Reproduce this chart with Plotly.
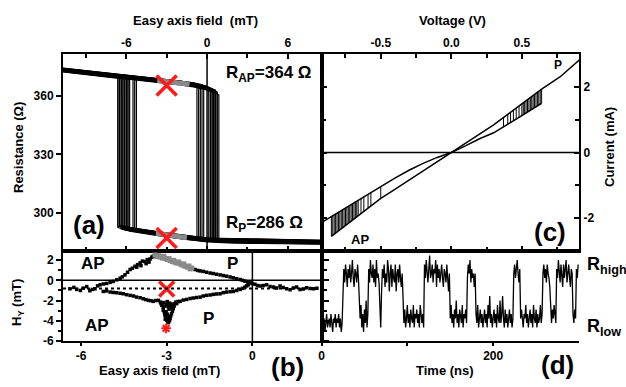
import numpy as np
import plotly.graph_objects as go

FONT = "Liberation Sans, Arial, Helvetica, sans-serif"

# ---------------- panel (a): resistance vs easy-axis field ----------------
AP_H = [-10.75, -9, -8, -7, -6.75, -6.625, -6.5, -6.375, -6.25, -6.125, -6, -5.875, -5.75,
        -5.625, -5.5, -5.375, -5.25, -5, -4, -3, -2, -1, -0.75, -0.625, -0.5, -0.375, -0.25,
        -0.125, 0, 0.125, 0.25, 0.375, 0.5, 0.625, 0.75, 0.875, 1.0]
AP_R = [373.5, 372.2, 371.3, 370.5, 370.3, 370.2, 370.1, 370.0, 369.9, 369.8, 369.7, 369.6,
        369.5, 369.4, 369.3, 369.2, 369.1, 368.9, 368.3, 367.6, 366.8, 365.8, 365.5, 365.3,
        365.1, 364.9, 364.6, 364.4, 364.1, 363.8, 363.4, 363.0, 362.6, 362.2, 361.8, 361.4, 361.0]
P_H = [-6.75, -6.625, -6.5, -6.375, -6.25, -6.125, -6, -5.875, -5.75, -5.625, -5.5, -5.375,
       -5.25, -5, -4, -3, -2, -1, -0.75, -0.625, -0.5, -0.375, -0.25, -0.125, 0, 0.125, 0.25,
       0.375, 0.5, 0.625, 0.75, 0.875, 1.0, 2, 4, 6, 8.75]
P_R = [293.4, 293.1, 292.9, 292.6, 292.4, 292.1, 291.9, 291.7, 291.5, 291.3, 291.1, 290.9,
       290.8, 290.5, 289.6, 288.6, 287.5, 286.7, 286.5, 286.4, 286.3, 286.25, 286.2, 286.1,
       286.0, 285.95, 285.9, 285.85, 285.8, 285.75, 285.7, 285.65, 285.6, 285.4, 285.2, 285.0, 284.8]
SWITCH_UP_H = [-0.75, -0.625, -0.5, -0.375, -0.25, 0.125, 0.25, 0.375, 0.375, 0.5, 0.5, 0.625,
               0.625, 0.75, 0.75, 0.875, 0.25, 0.5]
SWITCH_DOWN_H = [-6.625, -6.5, -6.375, -6.25, -6.125, -6.0, -5.875, -6.5, -6.375, -6.25, -5.75,
                 -6.125, -5.5, -6.0, -5.375, -6.625, -5.25, -5.875]
LOOP_SHIFT = [0.0, 0.6, -0.5, 1.0, -0.8, 0.3, -0.3, 0.8, -1.0, 0.5, -0.6, 0.2, 0.9, -0.2, 0.4,
              -0.7, 0.1, -0.4]
GRAY_AP_H = [-3.7, -3, -2, -1.3]
GRAY_AP_R = [368.1, 367.6, 366.8, 366.1]
GRAY_P_H = [-3.8, -3, -2, -1.5]
GRAY_P_R = [289.4, 288.6, 287.5, 287.1]
MARK_A_H = [-3, -3]
MARK_A_R = [365.5, 287.0]
A_XTICKS = [-6, 0, 6]
A_XTICKS_MINOR = [-9, -3, 3]
A_YTICKS = [300, 330, 360]

# ---------------- panel (b): H_Y vs easy-axis field ----------------
B_UP_H = [-6.39, -6.25, -6.15, -6.02, -5.92, -5.80, -5.69, -5.60, -5.51, -5.42, -5.33, -5.22,
          -5.10, -4.98, -4.87, -4.75, -4.63, -4.55, -4.46, -4.37, -4.28, -4.20, -4.11, -4.02,
          -3.93, -3.85, -3.76, -3.68, -3.58, -3.52, -3.47, -4.05, -3.90, -3.72, -3.62,
          -2.01, -1.92, -1.83, -1.72, -1.60, -1.48, -1.37, -1.25, -1.13, -1.02, -0.90, -0.78,
          -0.67, -0.55, -0.43, -0.35, -0.26, -0.17, -0.08, 0.00, 0.09, 0.18, 0.27, 0.38, 0.50,
          0.62, 0.74, 0.85, 0.97, 1.08, 1.20, 1.32, 1.44, 1.55, 1.67, 1.78, 1.90, 2.02, 2.14, 2.26]
B_UP_Y = [-0.84, -0.70, -0.90, -1.00, -0.77, -0.62, -1.03, -0.90, -0.84, -0.55, -0.44, -0.36,
          -0.31, -0.20, -0.11, 0.05, 0.21, 0.35, 0.54, 0.80, 1.07, 1.20, 1.39, 1.55,
          1.72, 1.90, 1.85, 2.05, 2.11, 2.30, 2.38, 1.30, 1.45, 1.65, 1.80,
          1.07, 0.98, 0.93, 0.88, 0.80, 0.72, 0.67, 0.60, 0.54, 0.47, 0.41, 0.33,
          0.25, 0.16, 0.08, 0.00, -0.08, -0.15, -0.25, -0.32, -0.38, -0.50, -0.57, -0.50, -0.44,
          -0.60, -0.67, -0.75, -0.57, -0.70, -0.84, -0.92, -0.77, -0.66, -0.90, -0.85, -0.74, -0.80, -0.84, -0.78]
B_GRAY_H = [-3.41, -3.35, -3.28, -3.23, -3.15, -3.10, -3.06, -2.98, -2.92, -2.88, -2.80, -2.75,
            -2.71, -2.64, -2.58, -2.53, -2.46, -2.40, -2.36, -2.28, -2.22, -2.18, -2.12]
B_GRAY_Y = [2.51, 2.35, 2.45, 2.30, 2.20, 2.38, 2.18, 2.05, 2.15, 1.95, 1.85, 1.98,
            1.79, 1.70, 1.82, 1.62, 1.50, 1.62, 1.39, 1.30, 1.42, 1.13, 1.22]
B_LOW_H = [-5.22, -5.10, -4.98, -4.87, -4.75, -4.63, -4.52, -4.40, -4.28, -4.16, -4.05, -3.93,
           -3.82, -3.73, -3.64, -3.55, -3.47, -3.38, -3.29, -3.22,
           -3.20, -3.17, -3.12, -3.12, -3.08, -3.06, -3.03, -3.00, -2.96, -2.94, -2.90, -2.88,
           -2.86, -2.83, -2.80, -2.77, -2.74, -2.71, -2.68, -3.00, -2.95, -2.92, -3.02, -2.98,
           -2.92, -3.05, -2.90, -2.85, -2.80, -3.10, -2.65, -2.60, -2.98, -2.82, -3.07, -2.97,
           -2.53, -2.42, -2.30, -2.18, -2.07, -1.95, -1.83, -1.72, -1.60, -1.48, -1.37, -1.25,
           -1.13, -1.02, -0.90, -0.78, -0.67, -0.55, -0.43, -0.35, -0.26, -0.20, -0.14]
B_LOW_Y = [-1.10, -1.05, -1.16, -1.20, -1.23, -1.28, -1.33, -1.42, -1.49, -1.55, -1.66, -1.72,
           -1.82, -1.90, -1.98, -2.02, -2.08, -2.00, -1.98, -2.15,
           -2.30, -2.48, -2.70, -2.97, -3.20, -3.46, -3.70, -3.95, -4.10, -4.18, -4.00, -3.79,
           -3.55, -3.30, -3.05, -2.80, -2.55, -2.31, -2.15, -2.40, -2.60, -2.85, -3.10, -3.35,
           -3.60, -3.85, -2.25, -2.45, -2.35, -2.20, -2.30, -2.10, -2.10, -2.70, -2.55, -3.85,
           -2.08, -1.95, -1.89, -1.80, -1.75, -1.70, -1.66, -1.55, -1.49, -1.45, -1.39, -1.35,
           -1.33, -1.22, -1.16, -1.12, -1.10, -1.00, -0.90, -0.80, -0.67, -0.55, -0.44]
B_DOTTED_Y = -0.8
MARK_B_H = [-3.0]
MARK_B_Y = [-0.85]
STAR_B_H = [-3.02]
STAR_B_Y = [-4.75]
B_XTICKS = [-6, -3, 0]
B_YTICKS = [-6, -4, -2, 0, 2]
B_YTICKS_MINOR = [-5, -3, -1, 1]

# ---------------- panel (c): current vs voltage ----------------
IV_AP_V = [-0.93, -0.85, -0.7, -0.5, -0.4, -0.3, -0.2, -0.1, 0, 0.1, 0.2, 0.3, 0.4, 0.5, 0.64]
IV_AP_I = [-2.16, -1.95, -1.56, -1.04, -0.78, -0.54, -0.33, -0.15, 0, 0.2, 0.42, 0.6, 0.855, 1.124, 1.5]
IV_P_V = [-0.85, -0.7, -0.5, -0.4, -0.3, -0.2, -0.1, 0, 0.1, 0.2, 0.3, 0.4, 0.5, 0.64, 0.77, 0.91]
IV_P_I = [-2.552, -2.058, -1.40, -1.12, -0.84, -0.56, -0.28, 0, 0.28, 0.56, 0.84, 1.16, 1.48, 1.928, 2.3, 2.83]
SW_R_V = [0.37, 0.40, 0.42, 0.44, 0.46, 0.48, 0.50, 0.51, 0.52, 0.53, 0.54, 0.55, 0.56, 0.57,
          0.58, 0.59, 0.60, 0.61, 0.62, 0.63, 0.64]
SW_R_ILO = [0.774, 0.855, 0.908, 0.962, 1.016, 1.070, 1.124, 1.150, 1.177, 1.204, 1.231, 1.258,
            1.285, 1.312, 1.339, 1.366, 1.393, 1.419, 1.446, 1.473, 1.500]
SW_R_IHI = [1.064, 1.160, 1.224, 1.288, 1.352, 1.416, 1.480, 1.512, 1.544, 1.576, 1.608, 1.640,
            1.672, 1.704, 1.736, 1.768, 1.800, 1.832, 1.864, 1.896, 1.928]
SW_L_V = [-0.50, -0.57, -0.59, -0.62, -0.64, -0.66, -0.67, -0.68, -0.69, -0.70, -0.71, -0.72,
          -0.73, -0.74, -0.75, -0.76, -0.77, -0.78, -0.79, -0.80, -0.81, -0.82, -0.83, -0.84, -0.85]
SW_L_ITOP = [-1.040, -1.222, -1.274, -1.352, -1.404, -1.456, -1.482, -1.508, -1.534, -1.560,
             -1.586, -1.612, -1.638, -1.664, -1.690, -1.716, -1.742, -1.768, -1.794, -1.820,
             -1.846, -1.872, -1.898, -1.924, -1.950]
SW_L_IBOT = [-1.400, -1.630, -1.696, -1.795, -1.861, -1.926, -1.959, -1.992, -2.025, -2.058,
             -2.091, -2.124, -2.157, -2.190, -2.223, -2.255, -2.288, -2.321, -2.354, -2.387,
             -2.420, -2.453, -2.486, -2.519, -2.552]
C_XTICKS = [-0.5, 0.0, 0.5]
C_XTICKTEXT = ["-0.5", "0.0", "0.5"]
C_XTICKS_MINOR = [-0.75, -0.25, 0.25, 0.75]
C_YTICKS = [-2, 0, 2]
C_YTICKS_MINOR = [-1, 1]

# ---------------- panel (d): telegraph noise vs time ----------------
T_NS = list(range(300))
SIGNAL = [4, 6, 3, 5, 2, 5, 6, 3, 4, 5,
          3, 6, 4, 2, 5, 4, 6, 3, 5, 4,
          6, 3, 5, 2, 4, 14, 16, 13, 17, 15,
          12, 16, 14, 17, 13, 15, 18, 14, 12, 16,
          15, 13, 17, 14, 9, 5, 8, 3, 6, 2,
          7, 4, 9, 3, 6, 16, 13, 18, 15, 14,
          17, 13, 16, 12, 18, 14, 15, 13, 8, 3,
          11, 16, 14, 17, 12, 15, 13, 18, 16, 11,
          15, 17, 12, 16, 14, 13, 17, 11, 15, 16,
          13, 17, 14, 12, 15, 6, 4, 7, 3, 5,
          8, 4, 6, 3, 7, 5, 4, 8, 3, 6,
          5, 7, 4, 6, 3, 8, 5, 4, 6, 3,
          17, 14, 18, 15, 13, 16, 19, 14, 15, 17,
          13, 16, 15, 18, 12, 17, 14, 16, 13, 15,
          17, 14, 12, 16, 15, 13, 17, 14, 11, 15,
          5, 8, 4, 6, 3, 7, 5, 9, 4, 6,
          3, 7, 5, 4, 8, 3, 6, 5, 7, 4,
          14, 17, 15, 18, 13, 16, 14, 15, 12, 15,
          6, 4, 8, 3, 5, 7, 4, 6, 3, 5,
          7, 4, 6, 3, 8, 5, 10, 4, 6, 3,
          5, 7, 4, 6, 3, 8, 5, 4, 9, 4,
          6, 10, 5, 3, 7, 4, 6, 3, 5, 7,
          4, 6, 3, 5, 15, 17, 14, 16, 18, 15,
          13, 16, 5, 7, 4, 3, 6, 5, 8, 4,
          6, 3, 5, 7, 4, 6, 3, 8, 5, 4,
          7, 3, 6, 4, 5, 8, 4, 6, 15, 17,
          14, 16, 13, 17, 15, 14, 12, 6, 4, 7,
          5, 8, 6, 4, 16, 14, 18, 15, 13, 17,
          15, 12, 17, 14, 16, 18, 13, 15, 17, 14,
          12, 16, 15, 6, 4, 7, 5, 16, 14, 17]
D_XTICKS = [0, 200]
D_XTICKS_MINOR = [100]

# ---------------- figure ----------------
W, H = 626, 387


def px(x):
    return x / W


def py(y):
    return 1 - y / H


fig = go.Figure()

ap_h, ap_r = np.array(AP_H), np.array(AP_R)
p_h, p_r = np.array(P_H), np.array(P_R)
for hu, hd, dr in zip(SWITCH_UP_H, SWITCH_DOWN_H, LOOP_SHIFT):
    m1 = ap_h <= hu + 1e-9
    m2 = p_h >= hu - 1e-9
    m3 = p_h >= hd - 1e-9
    m4 = ap_h <= hd + 1e-9
    xs = np.concatenate([ap_h[m1], p_h[m2], p_h[m3][::-1], ap_h[m4][::-1]])
    ys = np.concatenate([ap_r[m1], p_r[m2], p_r[m3][::-1], ap_r[m4][::-1]]) + dr
    fig.add_trace(go.Scatter(x=xs, y=ys, mode="lines", line=dict(color="black", width=1.2),
                             xaxis="x", yaxis="y", showlegend=False, hoverinfo="skip"))

for gx, gy in ((GRAY_AP_H, GRAY_AP_R), (GRAY_P_H, GRAY_P_R)):
    fig.add_trace(go.Scatter(x=gx, y=gy, mode="lines", line=dict(color="#8a8a8a", width=5),
                             xaxis="x", yaxis="y", showlegend=False, hoverinfo="skip"))

fig.add_trace(go.Scatter(x=MARK_A_H, y=MARK_A_R, mode="markers",
                         marker=dict(symbol="x-thin", size=20, line=dict(width=3.5, color="#ff1a1a")),
                         xaxis="x", yaxis="y", showlegend=False, hoverinfo="skip"))

# panel b
fig.add_trace(go.Scatter(x=B_UP_H, y=B_UP_Y, mode="markers",
                         marker=dict(symbol="square", size=3.5, color="black"),
                         xaxis="x2", yaxis="y2", showlegend=False, hoverinfo="skip"))
fig.add_trace(go.Scatter(x=B_LOW_H, y=B_LOW_Y, mode="markers",
                         marker=dict(symbol="square", size=3.5, color="black"),
                         xaxis="x2", yaxis="y2", showlegend=False, hoverinfo="skip"))
fig.add_trace(go.Scatter(x=B_GRAY_H, y=B_GRAY_Y, mode="markers",
                         marker=dict(symbol="square", size=5, color="#8a8a8a"),
                         xaxis="x2", yaxis="y2", showlegend=False, hoverinfo="skip"))
fig.add_trace(go.Scatter(x=MARK_B_H, y=MARK_B_Y, mode="markers",
                         marker=dict(symbol="x-thin", size=15, line=dict(width=3.5, color="#ff1a1a")),
                         xaxis="x2", yaxis="y2", showlegend=False, hoverinfo="skip"))
fig.add_trace(go.Scatter(x=STAR_B_H, y=STAR_B_Y, mode="markers",
                         marker=dict(symbol="asterisk", size=8, line=dict(width=2, color="#ff1a1a")),
                         xaxis="x2", yaxis="y2", showlegend=False, hoverinfo="skip"))

# panel c
fig.add_trace(go.Scatter(x=IV_AP_V, y=IV_AP_I, mode="lines", line=dict(color="black", width=1.5),
                         xaxis="x3", yaxis="y3", showlegend=False, hoverinfo="skip"))
fig.add_trace(go.Scatter(x=IV_P_V, y=IV_P_I, mode="lines", line=dict(color="black", width=1.5),
                         xaxis="x3", yaxis="y3", showlegend=False, hoverinfo="skip"))
sx, sy = [], []
for v, a, b in list(zip(SW_R_V, SW_R_ILO, SW_R_IHI)) + list(zip(SW_L_V, SW_L_ITOP, SW_L_IBOT)):
    sx += [v, v, None]
    sy += [a, b, None]
fig.add_trace(go.Scatter(x=sx, y=sy, mode="lines", line=dict(color="black", width=1),
                         xaxis="x3", yaxis="y3", showlegend=False, hoverinfo="skip"))

# panel d
fig.add_trace(go.Scatter(x=T_NS, y=SIGNAL, mode="lines", line=dict(color="black", width=1.3),
                         xaxis="x4", yaxis="y4", showlegend=False, hoverinfo="skip"))

tickfont = dict(family=FONT, size=12, color="black", weight="bold")
common = dict(showline=True, linewidth=2, linecolor="black", showgrid=False, zeroline=False,
              automargin=False, ticklen=5, tickwidth=1.5, tickcolor="black", tickfont=tickfont)


def minor(vals, ticks, ticklen=4):
    return dict(tickvals=vals, ticks=ticks, ticklen=ticklen, tickwidth=1.5, tickcolor="black",
                showgrid=False)


XA = [px(63), px(321.5)]
XC = [px(321.5), px(579)]
YA = [py(251), py(54)]
YB = [py(341), py(251)]

fig.update_layout(
    width=W, height=H, margin=dict(l=0, r=0, t=0, b=0),
    paper_bgcolor="white", plot_bgcolor="white", showlegend=False,
    font=dict(family=FONT, size=13, color="black", weight="bold"),
    xaxis=dict(common, domain=XA, range=[-10.7, 8.5], side="top", anchor="y",
               tickvals=A_XTICKS, ticktext=[str(v) for v in A_XTICKS], ticks="inside",
               mirror="allticks", minor=minor(A_XTICKS_MINOR, "inside")),
    yaxis=dict(common, domain=YA, range=[280.3, 381.7], anchor="x",
               tickvals=A_YTICKS, ticktext=[str(v) for v in A_YTICKS], ticks="outside", mirror=True),
    xaxis2=dict(common, domain=XA, range=[-6.63, 2.42], anchor="y2", ticklen=3,
                tickvals=B_XTICKS, ticktext=[str(v) for v in B_XTICKS], ticks="outside", mirror=True),
    yaxis2=dict(common, domain=YB, range=[-6, 2.9], anchor="x2",
                tickvals=B_YTICKS, ticktext=[str(v) for v in B_YTICKS], ticks="outside",
                mirror="allticks", minor=minor(B_YTICKS_MINOR, "outside", 3)),
    xaxis3=dict(common, domain=XC, range=[-0.92, 0.905], side="top", anchor="y3",
                tickvals=C_XTICKS, ticktext=C_XTICKTEXT, ticks="inside", mirror="allticks",
                minor=minor(C_XTICKS_MINOR, "inside")),
    yaxis3=dict(common, domain=YA, range=[-3, 3], side="right", anchor="x3",
                tickvals=C_YTICKS, ticktext=[str(v) for v in C_YTICKS], ticks="inside",
                mirror="allticks", minor=minor(C_YTICKS_MINOR, "inside")),
    xaxis4=dict(common, domain=XC, range=[0, 300], anchor="y4", ticklen=3,
                tickvals=D_XTICKS, ticktext=[str(v) for v in D_XTICKS], ticks="outside", mirror=True,
                minor=minor(D_XTICKS_MINOR, "outside", 3)),
    yaxis4=dict(common, domain=YB, range=[0, 20], anchor="x4", showticklabels=False, ticks=""),
)

shapes = [
    dict(type="line", xref="x", yref="y domain", x0=0, x1=0, y0=0, y1=1,
         line=dict(color="black", width=1.5)),
    dict(type="line", xref="x2", yref="y2 domain", x0=0, x1=0, y0=0, y1=1,
         line=dict(color="black", width=1.5)),
    dict(type="line", xref="x2 domain", yref="y2", x0=0, x1=1, y0=0, y1=0,
         line=dict(color="black", width=1.5)),
    dict(type="line", xref="x2 domain", yref="y2", x0=0, x1=1, y0=B_DOTTED_Y, y1=B_DOTTED_Y,
         line=dict(color="black", width=2, dash="dot")),
    dict(type="line", xref="x3 domain", yref="y3", x0=0, x1=1, y0=0, y1=0,
         line=dict(color="black", width=1.5)),
]
fig.update_layout(shapes=shapes)


def ann(text, x, y, size, xref="paper", yref="paper", angle=0, xanchor="center"):
    return dict(text=text, x=x, y=y, xref=xref, yref=yref, showarrow=False, textangle=angle,
                xanchor=xanchor, yanchor="middle",
                font=dict(family=FONT, size=size, color="black", weight="bold"))


annotations = [
    ann("Easy axis field  (mT)", px(195), py(20), 13),
    ann("Voltage (V)", px(452.5), py(20), 13),
    ann("Resistance (Ω)", px(18), py(148), 13, angle=-90),
    ann("H<sub>Y</sub> (mT)", px(17), py(303), 13, angle=-90),
    ann("Current (mA)", px(609), py(147), 13, angle=-90),
    ann("Easy axis field (mT)", px(159), py(370), 13),
    ann("Time (ns)", px(445.5), py(370), 13),
    ann("R<sub>AP</sub>=364 Ω", 4.6, 371.4, 17, xref="x", yref="y"),
    ann("R<sub>P</sub>=286 Ω", 4.3, 294.0, 17, xref="x", yref="y"),
    ann("(a)", -8.8, 293.5, 26, xref="x", yref="y"),
    ann("AP", -5.58, 1.71, 17, xref="x2", yref="y2"),
    ann("P", -0.71, 1.71, 17, xref="x2", yref="y2"),
    ann("AP", -5.44, -4.42, 17, xref="x2", yref="y2"),
    ann("P", -1.55, -3.73, 17, xref="x2", yref="y2"),
    ann("(b)", px(287.5), py(367), 26),
    ann("P", 0.755, 2.68, 12, xref="x3", yref="y3"),
    ann("AP", -0.65, -2.64, 13, xref="x3", yref="y3"),
    ann("(c)", 0.70, -2.42, 26, xref="x3", yref="y3"),
    ann("(d)", px(557.5), py(365), 26),
    ann("R<sub>high</sub>", px(585), py(265), 18, xanchor="left"),
    ann("R<sub>low</sub>", px(585), py(327), 18, xanchor="left"),
]
fig.update_layout(annotations=annotations)

fig.write_html("out.html", config={"displayModeBar": False},
               post_script="document.body.style.margin='0px';document.body.style.overflow='hidden';")
